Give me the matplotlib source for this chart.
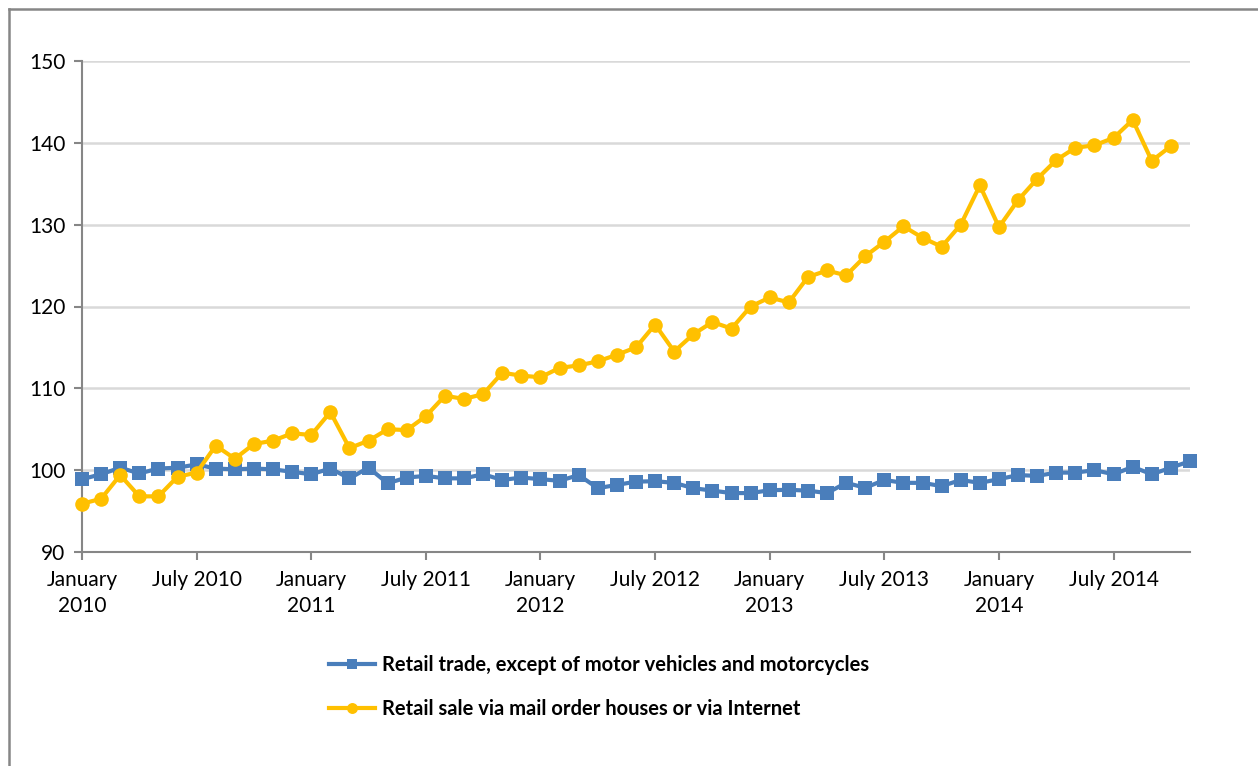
import matplotlib
matplotlib.use("Agg")
import matplotlib.pyplot as plt
from matplotlib.lines import Line2D

plt.rcParams['font.family'] = ['Lato', 'DejaVu Sans']

tick_labels = ["January\n2010", "July 2010", "January\n2011", "July 2011",
               "January\n2012", "July 2012", "January\n2013", "July 2013",
               "January\n2014", "July 2014"]

retail_trade = [98.9, 99.5, 100.3, 99.6, 100.2, 100.3, 100.7, 100.2, 100.1, 100.2,
                100.1, 99.8, 99.5, 100.2, 99.0, 100.3, 98.4, 99.1, 99.3, 99.0,
                99.0, 99.5, 98.8, 99.1, 98.9, 98.7, 99.4, 97.8, 98.2, 98.6,
                98.65, 98.45, 97.8, 97.5, 97.2, 97.2, 97.55, 97.6, 97.5, 97.2,
                98.45, 97.85, 98.8, 98.45, 98.45, 98.05, 98.8, 98.45, 98.9, 99.4,
                99.3, 99.7, 99.7, 100.0, 99.5, 100.4, 99.5, 100.3, 101.1]

mail_internet = [95.9, 96.5, 99.4, 96.8, 96.8, 99.2, 99.7, 103.0, 101.4, 103.2,
                 103.6, 104.5, 104.3, 107.1, 102.7, 103.6, 105.0, 104.9, 106.6, 109.1,
                 108.7, 109.3, 111.9, 111.55, 111.35, 112.5, 112.8, 113.3, 114.1, 115.0,
                 117.8, 114.5, 116.6, 118.1, 117.3, 120.0, 121.1, 120.5, 123.6, 124.4,
                 123.8, 126.15, 127.9, 129.8, 128.4, 127.3, 130.0, 134.8, 129.7, 133.0,
                 135.6, 137.9, 139.4, 139.7, 140.6, 142.8, 137.8, 139.6]

series_names = ["Retail trade, except of motor vehicles and motorcycles",
                "Retail sale via mail order houses or via Internet"]

blue = "#4A7EBB"
gold = "#FFC000"
axis_grey = "#868686"
grid_grey = "#D9D9D9"

fig = plt.figure(figsize=(12.58, 7.66), dpi=100)
ax = fig.add_axes([82/1258, 1-552/766, (1190-82)/1258, (552-61)/766])

x1 = list(range(len(retail_trade)))
x2 = list(range(len(mail_internet)))

ax.plot(x1, retail_trade, color=blue, lw=3.0, marker='s', markersize=9.5,
        markeredgewidth=0, label=series_names[0], zorder=3, clip_on=False)
ax.plot(x2, mail_internet, color=gold, lw=3.0, marker='o', markersize=10.5,
        markeredgewidth=0, label=series_names[1], zorder=4, clip_on=False)

ax.set_xlim(0, 58)
ax.set_ylim(90, 150)
ax.set_yticks(range(90, 151, 10))
ax.set_xticks(range(0, 58, 6))
ax.set_xticklabels(tick_labels)

ax.grid(axis='y', color=grid_grey, lw=1.8)
ax.set_axisbelow(True)
for s in ['top', 'right']:
    ax.spines[s].set_visible(False)
for s in ['left', 'bottom']:
    ax.spines[s].set_color(axis_grey)
    ax.spines[s].set_linewidth(1.5)
ax.tick_params(axis='both', colors=axis_grey, length=6, width=1.5,
               labelcolor='black', labelsize=15)
ax.tick_params(axis='x', pad=7)
ax.tick_params(axis='y', pad=6)
for lab in ax.get_xticklabels():
    lab.set_linespacing(1.38)

leg = fig.legend(handles=ax.get_lines(), loc='upper left',
                 bbox_to_anchor=(311/1258, 1-637/766), frameon=False,
                 prop={'weight': 'bold', 'size': 14.5}, handlelength=2.3,
                 handletextpad=0.35, labelspacing=1.2, markerscale=0.75)

# outer frame (left and top edges visible)
fig.add_artist(Line2D([8.5/1258, 8.5/1258], [0, 1-8.5/766], color=axis_grey, lw=1.8,
                      transform=fig.transFigure))
fig.add_artist(Line2D([8.5/1258, 1], [1-8.5/766, 1-8.5/766], color=axis_grey, lw=1.8,
                      transform=fig.transFigure))

fig.savefig("out.png", dpi=100)
